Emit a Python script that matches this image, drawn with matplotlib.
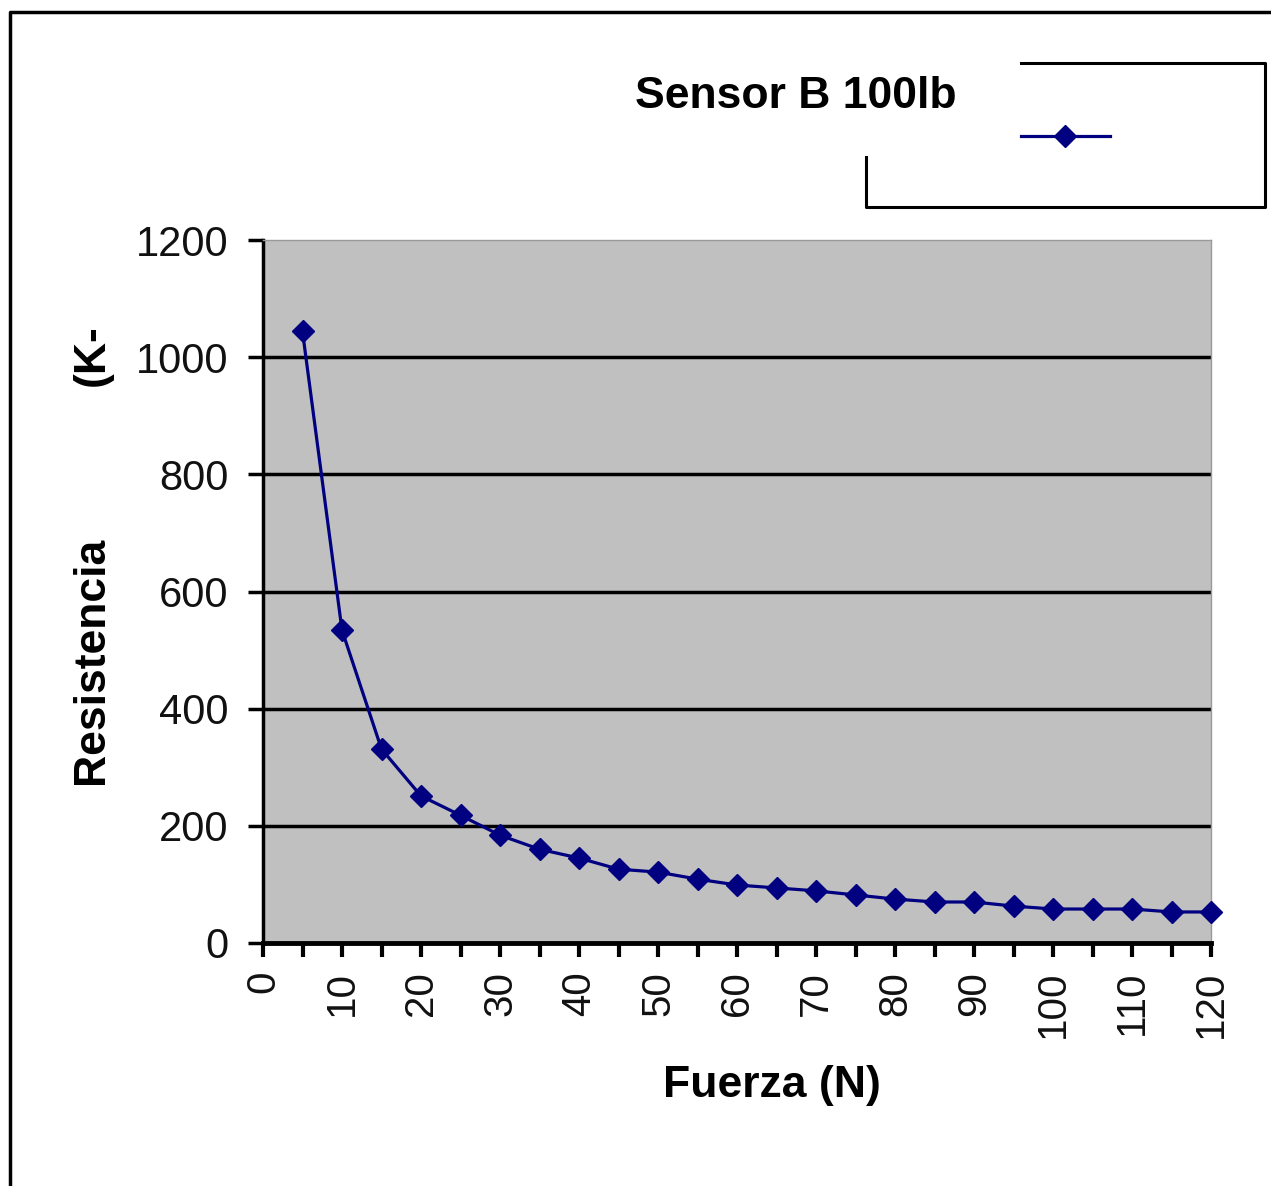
import numpy as np
import matplotlib.pyplot as plt
from matplotlib.lines import Line2D
from matplotlib.ticker import MultipleLocator, FuncFormatter

# Sensor B 100lb: resistance vs force
fuerza = [5, 10, 15, 20, 25, 30, 35, 40, 45, 50, 55, 60,
          65, 70, 75, 80, 85, 90, 95, 100, 105, 110, 115, 120]
resistencia = [1044, 534, 331, 251, 218, 184, 160, 145, 126, 121, 109, 99,
               94, 89, 82, 75, 70, 70, 63, 58, 58, 58, 53, 53]
y_ticks = [0, 200, 400, 600, 800, 1000, 1200]

plt.rcParams['font.family'] = ['Liberation Sans', 'DejaVu Sans']

W, H = 1271, 1186
fig = plt.figure(figsize=(W / 100, H / 100), dpi=100)
fig.patch.set_facecolor('white')

# plot area, placed in pixel coordinates of the reference
ax = fig.add_axes([263 / W, 1 - 943 / H, (1211 - 263) / W, (943 - 240) / H])
ax.set_facecolor('#c0c0c0')

navy = '#000080'
ax.plot(fuerza, resistencia, color=navy, lw=2.3, marker='D', markersize=11,
        markerfacecolor=navy, markeredgecolor=navy, zorder=3, clip_on=False)

ax.set_xlim(0, 120)
ax.set_ylim(0, 1200)
ax.set_yticks(y_ticks)
ax.xaxis.set_major_locator(MultipleLocator(5))
ax.xaxis.set_major_formatter(FuncFormatter(lambda v, p: f"{int(v)}" if int(v) % 10 == 0 else ""))

for y in y_ticks[1:-1]:
    ax.axhline(y, color='black', lw=2.5, zorder=1)

for s in ['top', 'right']:
    ax.spines[s].set_color('#9a9a9a')
    ax.spines[s].set_linewidth(1)
ax.spines['left'].set_linewidth(2.5)
ax.spines['bottom'].set_linewidth(3.5)

ax.tick_params(axis='y', direction='out', length=11, width=2.5, labelsize=30,
               labelcolor='#111111', pad=14)
ax.tick_params(axis='x', direction='out', length=10, width=3, labelsize=29,
               labelcolor='#111111', labelrotation=90, pad=10)

fig.text(92 / W, 1 - 660 / H, 'Resistencia', rotation=90, ha='center', va='center',
         fontsize=32, fontweight='bold')
fig.text(92 / W, 1 - 355 / H, '(K-', rotation=90, ha='center', va='center',
         fontsize=32, fontweight='bold')
fig.text(772 / W, 1 - 1085 / H, 'Fuerza (N)', ha='center', va='center',
         fontsize=32, fontweight='bold')
fig.text(796 / W, 1 - 97 / H, 'Sensor B 100lb', ha='center', va='center',
         fontsize=32, fontweight='bold')

# legend box (partially drawn, as in the reference)
def fig_line(xs, ys, **kw):
    fig.add_artist(Line2D([x / W for x in xs], [1 - y / H for y in ys],
                          transform=fig.transFigure, **kw))

fig_line([1021, 1265, 1265, 866, 866], [63, 63, 207, 207, 157], color='black', lw=2.2)
fig_line([1021, 1110], [136, 136], color=navy, lw=2.3)
fig_line([1065], [136], color=navy, marker='D', markersize=11, lw=0)

# outer chart frame
fig_line([10, 10, 1271], [1186, 12, 12], color='black', lw=2.5)

fig.savefig('out.png', dpi=100)
